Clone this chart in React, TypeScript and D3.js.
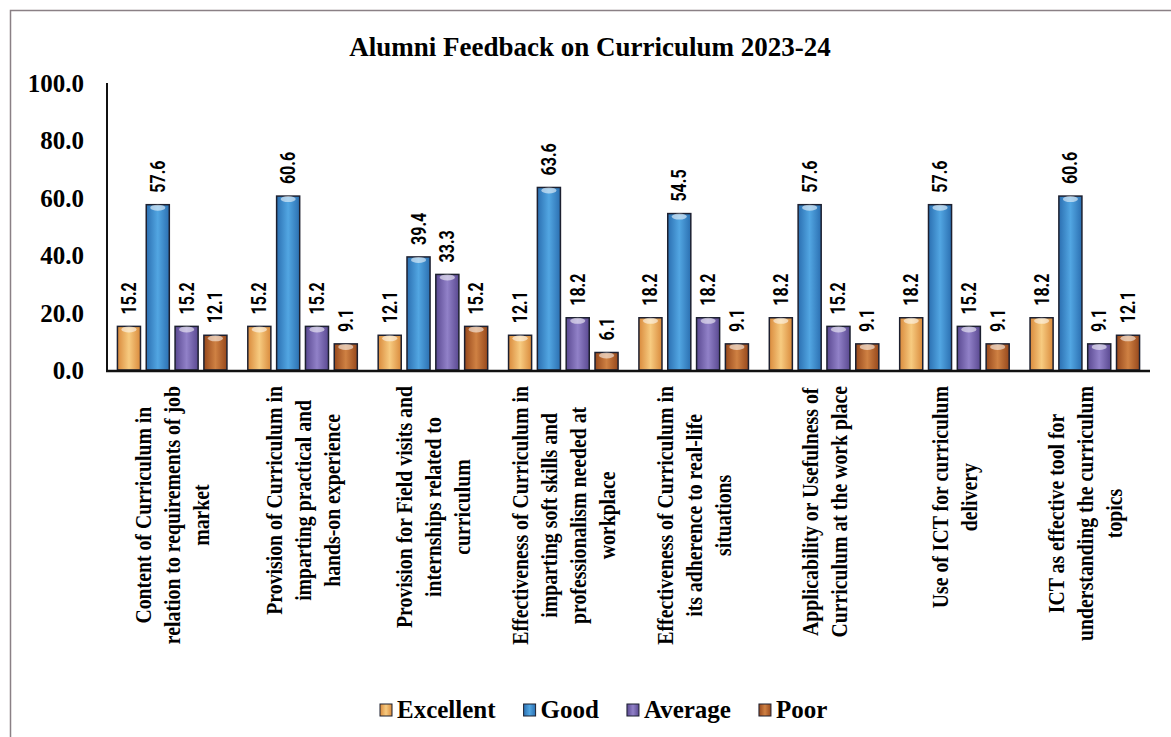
import * as React from "react";
import * as d3 from "d3";

const categories = [
  "Content of Curriculum in|relation to requirements of job|market",
  "Provision of Curriculum in|imparting practical and|hands-on experience",
  "Provision for Field visits and|internships related to|curriculum",
  "Effectiveness of Curriculum in|imparting soft skills and|professionalism needed at|workplace",
  "Effectiveness of Curriculum in|its adherence to real-life|situations",
  "Applicability or Usefulness of|Curriculum at the work place",
  "Use of ICT for curriculum|delivery",
  "ICT as effective tool for|understanding the curriculum|topics",
];
const seriesNames = ["Excellent", "Good", "Average", "Poor"];
const excellent = [15.2, 15.2, 12.1, 12.1, 18.2, 18.2, 18.2, 18.2];
const good = [57.6, 60.6, 39.4, 63.6, 54.5, 57.6, 57.6, 60.6];
const average = [15.2, 15.2, 33.3, 18.2, 18.2, 15.2, 15.2, 9.1];
const poor = [12.1, 9.1, 15.2, 6.1, 9.1, 9.1, 9.1, 12.1];
const yTicks = [0, 20, 40, 60, 80, 100];

const W = 1171;
const H = 737;
const serif = "'Liberation Serif', 'Times New Roman', serif";
const sans = "Roboto, 'Liberation Sans', sans-serif";

// [edge, centre] colours for each series
const palette = [
  ["#d98a3c", "#f7cb80"],
  ["#2b6fb1", "#52a6e2"],
  ["#5a4991", "#9181c8"],
  ["#97481c", "#cf8143"],
];

const App = () => {
  const ref = React.useRef(null);

  React.useEffect(() => {
    document.body.style.margin = "0";
    const svg = d3.select(ref.current);
    svg.selectAll("*").remove();

    const values = [excellent, good, average, poor];
    const x0 = d3.scaleBand().domain(d3.range(categories.length) as any).range([107, 1150]).paddingInner(0.16).paddingOuter(0.08);
    const x1 = d3.scaleBand().domain(seriesNames).range([0, x0.bandwidth()]).paddingInner(0.2);
    const y = d3.scaleLinear().domain([0, 100]).range([370, 83]);

    const defs = svg.append("defs");
    palette.forEach((c, i) => {
      const g = defs.append("linearGradient").attr("id", "grad" + i).attr("x1", 0).attr("x2", 1).attr("y1", 0).attr("y2", 0);
      g.append("stop").attr("offset", "0%").attr("stop-color", c[0]);
      g.append("stop").attr("offset", "50%").attr("stop-color", c[1]);
      g.append("stop").attr("offset", "100%").attr("stop-color", c[0]);
    });

    svg.append("rect").attr("width", W).attr("height", H).attr("fill", "#fff");
    svg.append("rect").attr("x", 10.5).attr("y", 10.5).attr("width", W + 20).attr("height", H + 20)
      .attr("fill", "none").attr("stroke", "#8a8085").attr("stroke-width", 1.5);

    svg.append("text").attr("x", 590).attr("y", 56).attr("text-anchor", "middle")
      .attr("font-family", serif).attr("font-weight", "bold").attr("font-size", 27)
      .text("Alumni Feedback on Curriculum 2023-24");

    // y axis
    svg.append("line").attr("x1", 107).attr("x2", 107).attr("y1", y(100)).attr("y2", y(0))
      .attr("stroke", "#111").attr("stroke-width", 2);
    svg.append("g").selectAll("text").data(yTicks).join("text")
      .attr("x", 84).attr("y", d => y(d) + 9).attr("text-anchor", "end")
      .attr("font-family", serif).attr("font-weight", "bold").attr("font-size", 25)
      .text(d => d3.format(".1f")(d));

    // bars
    const groups = svg.append("g").selectAll("g").data(categories).join("g")
      .attr("transform", (d, i) => `translate(${x0(i as any)},0)`);
    seriesNames.forEach((s, si) => {
      const bx = x1(s);
      const bw = x1.bandwidth();
      groups.append("rect")
        .attr("x", bx).attr("width", bw)
        .attr("y", (d, i) => y(values[si][i])).attr("height", (d, i) => y(0) - y(values[si][i]))
        .attr("fill", `url(#grad${si})`).attr("stroke", "#1d2030").attr("stroke-width", 1.5);
      groups.append("ellipse")
        .attr("cx", bx + bw / 2).attr("cy", (d, i) => y(values[si][i]) + 3)
        .attr("rx", bw / 2 - 4).attr("ry", 3).attr("fill", "#fff").attr("opacity", 0.55);
      groups.append("text")
        .attr("transform", (d, i) => `translate(${bx + bw / 2 + 7},${y(values[si][i]) - 12}) rotate(-90) scale(0.8,1)`)
        .attr("font-family", sans).attr("font-weight", "bold").attr("font-size", 20)
        .text((d, i) => d3.format(".1f")(values[si][i]));
    });

    // x axis
    svg.append("line").attr("x1", 106).attr("x2", 1150).attr("y1", y(0) + 1).attr("y2", y(0) + 1)
      .attr("stroke", "#111").attr("stroke-width", 2.5);

    // category labels, rotated, lines centred, block top aligned under axis
    const sx = 0.86;
    categories.forEach((c, i) => {
      const lines = c.split("|");
      const cx = (x0(i as any) as number) + x0.bandwidth() / 2;
      const t = svg.append("g");
      const texts = lines.map(ln =>
        t.append("text").attr("text-anchor", "middle")
          .attr("font-family", serif).attr("font-weight", "bold").attr("font-size", 23)
          .text(ln)
      );
      const maxLen = (d3.max(texts, tx => (tx.node() as SVGTextElement).getComputedTextLength()) as number) * sx;
      const cy = 386 + maxLen / 2;
      texts.forEach((tx, li) => {
        const lx = cx + (li - (lines.length - 1) / 2) * 29 + 8;
        tx.attr("transform", `translate(${lx},${cy}) rotate(-90) scale(${sx},1)`);
      });
    });

    // legend
    let lx = 380;
    seriesNames.forEach((s, si) => {
      svg.append("rect").attr("x", lx).attr("y", 704).attr("width", 12).attr("height", 12)
        .attr("fill", `url(#grad${si})`).attr("stroke", "#1d2030").attr("stroke-width", 1);
      const tx = svg.append("text").attr("x", lx + 17).attr("y", 718)
        .attr("font-family", serif).attr("font-weight", "bold").attr("font-size", 25).text(s);
      lx += 17 + (tx.node() as SVGTextElement).getComputedTextLength() + 28;
    });
  }, []);

  return <svg ref={ref} width={W} height={H} style={{ display: "block" }} />;
};

export default App;
